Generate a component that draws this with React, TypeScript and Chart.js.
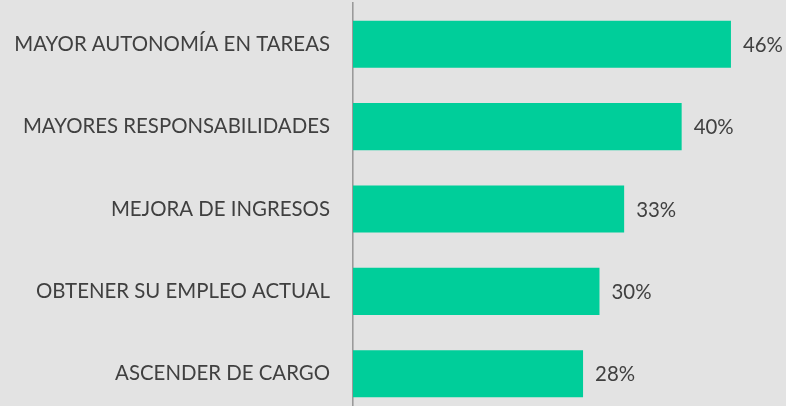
import React, { useEffect, useRef } from "react";
import { Chart, registerables } from "chart.js";

Chart.register(...registerables);

const categories = [
  "MAYOR AUTONOMÍA EN TAREAS",
  "MAYORES RESPONSABILIDADES",
  "MEJORA DE INGRESOS",
  "OBTENER SU EMPLEO ACTUAL",
  "ASCENDER DE CARGO",
];
const values = [46, 40, 33, 30, 28];
const valueLabels = ["46%", "40%", "33%", "30%", "28%"];

const BG = "#e3e3e3";
const BAR = "#00ce9a";
const TEXT = "#404040";
const FONT = "Lato, 'Open Sans', sans-serif";
const FONT_SIZE = 20.4;

export default function App() {
  const ref = useRef<HTMLCanvasElement | null>(null);

  useEffect(() => {
    document.body.style.margin = "0";
    document.body.style.background = BG;
    const canvas = ref.current;
    if (!canvas) return;

    const labelPlugin = {
      id: "valueLabels",
      afterDatasetsDraw(chart: any) {
        const ctx = chart.ctx;
        const meta = chart.getDatasetMeta(0);
        ctx.save();
        ctx.fillStyle = TEXT;
        ctx.font = `${FONT_SIZE}px ${FONT}`;
        ctx.textAlign = "left";
        ctx.textBaseline = "middle";
        meta.data.forEach((bar: any, i: number) => {
          ctx.fillText(valueLabels[i], bar.x + 12, bar.y + 1);
        });
        ctx.restore();
      },
    };

    const chart = new Chart(canvas, {
      type: "bar",
      data: {
        labels: categories,
        datasets: [
          {
            data: values,
            backgroundColor: BAR,
            borderWidth: 0,
            barPercentage: 0.571,
            categoryPercentage: 1,
          },
        ],
      },
      plugins: [labelPlugin],
      options: {
        indexAxis: "y",
        animation: false,
        responsive: false,
        maintainAspectRatio: false,
        layout: { padding: { top: 3, right: 0, bottom: 0, left: 0 } },
        plugins: {
          legend: { display: false },
          tooltip: { enabled: false },
        },
        scales: {
          x: {
            display: false,
            min: 0,
            max: 52.7,
          },
          y: {
            afterFit(scale: any) {
              scale.width = 353;
              scale.paddingTop = 0;
              scale.paddingBottom = 0;
            },
            grid: { display: false, drawTicks: false },
            border: { display: true, color: "#9a9a9a", width: 1.6 },
            ticks: {
              color: TEXT,
              padding: 23,
              font: { family: FONT, size: FONT_SIZE },
            },
          },
        },
      },
    });
    return () => chart.destroy();
  }, []);

  return (
    <div style={{ width: 786, height: 406, overflow: "hidden", background: BG }}>
      <canvas ref={ref} width={786} height={415} style={{ display: "block" }} />
    </div>
  );
}
